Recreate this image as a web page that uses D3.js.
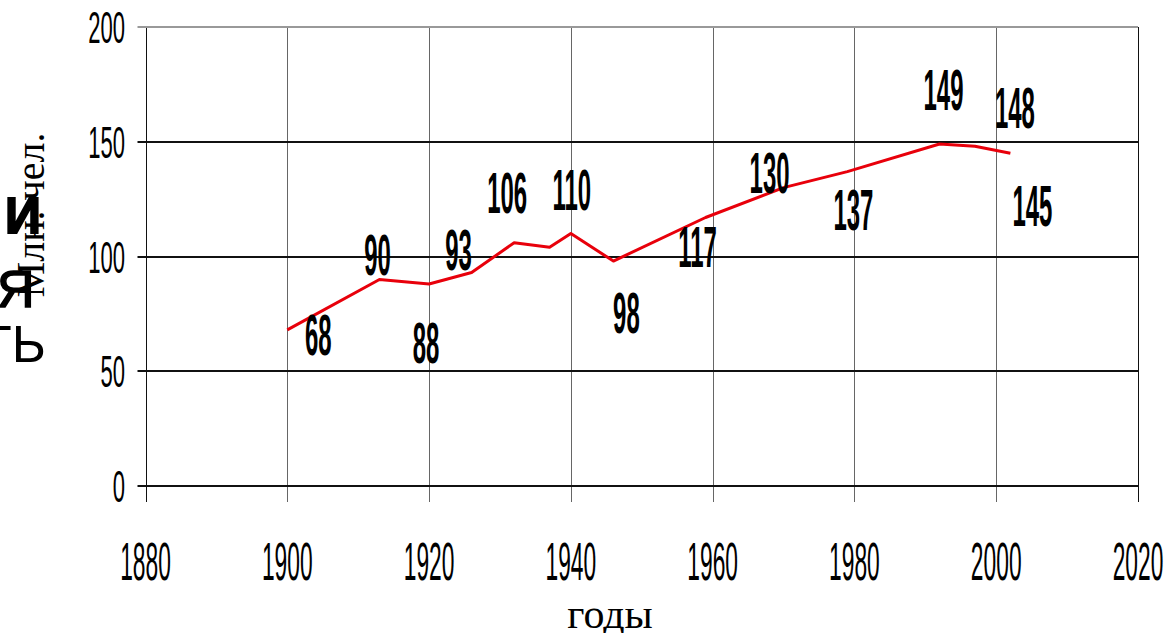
<!DOCTYPE html>
<html>
<head>
<meta charset="utf-8">
<script src="https://cdn.jsdelivr.net/npm/d3@7"></script>
<style>
  body { margin: 0; background: #fff; }
  svg { display: block; }
  .num { font-family: "Liberation Sans", Arial, sans-serif; }
  .serif { font-family: "Liberation Serif", "Times New Roman", serif; }
</style>
</head>
<body>
<div id="chart"></div>
<script>
// population, mln people
const years = [1900, 1913, 1920, 1926, 1932, 1937, 1940, 1946, 1959, 1970, 1979, 1992, 1997, 2002];
const values = [68, 90, 88, 93, 106, 104, 110, 98, 117, 130, 137, 149, 148, 145];
// printed value labels (1937 has none)
const labels = ['68', '90', '88', '93', '106', null, '110', '98', '117', '130', '137', '149', '148', '145'];

const xTicks = [1880, 1900, 1920, 1940, 1960, 1980, 2000, 2020];
const yTicks = [0, 50, 100, 150, 200];

// where each label sits relative to its point (dx, dy to baseline)
const labelDx = [31, -2, -3, -13, -7, 0, 1, 13, -8, -14, 6, 4, 40, 22];
const labelDy = [25, -4, 79, -3, -30, 0, -24, 72, 50, 5, 58, -34, -18, 73];

const width = 1168;
const height = 633;

const svg = d3.select('#chart')
  .append('svg')
  .attr('width', width)
  .attr('height', height);

const x = d3.scaleLinear().domain([1880, 2020]).range([145.5, 1138]);
const y = d3.scaleLinear().domain([0, 200]).range([486, 27]);

/* GRID */
const grid = svg.append('g').attr('class', 'grid');

grid.selectAll('.vline')
  .data(xTicks)
  .join('line')
  .attr('class', 'vline')
  .attr('x1', d => Math.round(x(d)) + 0.5)
  .attr('x2', d => Math.round(x(d)) + 0.5)
  .attr('y1', y(200))
  .attr('y2', y(0) + 16)
  .attr('stroke', (d, i) => (i === 0 || i === xTicks.length - 1) ? '#111' : '#666')
  .attr('stroke-width', 1);

grid.selectAll('.hline')
  .data(yTicks)
  .join('line')
  .attr('class', 'hline')
  .attr('x1', x(1880) - 8)
  .attr('x2', x(2020))
  .attr('y1', d => Math.round(y(d)))
  .attr('y2', d => Math.round(y(d)))
  .attr('stroke', d => d === 200 ? '#999' : '#111')
  .attr('stroke-width', 2);

/* TICK LABELS (condensed digits) */
svg.append('g')
  .selectAll('text')
  .data(yTicks)
  .join('text')
  .attr('class', 'num')
  .attr('transform', d => `translate(125,${y(d) + 16}) scale(0.49,1)`)
  .attr('text-anchor', 'end')
  .attr('font-size', 45)
  .attr('fill', '#000')
  .text(d => d);

svg.append('g')
  .selectAll('text')
  .data(xTicks)
  .join('text')
  .attr('class', 'num')
  .attr('transform', d => `translate(${x(d)},580) scale(0.43,1)`)
  .attr('text-anchor', 'middle')
  .attr('font-size', 53)
  .attr('fill', '#000')
  .text(d => d);

/* LINE */
const pts = years.map((yr, i) => ({ year: yr, value: values[i], label: labels[i], i }));

const line = d3.line()
  .x(d => x(d.year))
  .y(d => y(d.value));

svg.append('path')
  .datum(pts)
  .attr('d', line)
  .attr('fill', 'none')
  .attr('stroke', '#e8000b')
  .attr('stroke-width', 3)
  .attr('stroke-linejoin', 'round');

/* VALUE LABELS */
svg.append('g')
  .selectAll('text')
  .data(pts.filter(d => d.label))
  .join('text')
  .attr('class', 'num')
  .attr('transform', d => `translate(${x(d.year) + labelDx[d.i]},${y(d.value) + labelDy[d.i]}) scale(0.42,1)`)
  .attr('text-anchor', 'middle')
  .attr('font-size', 57)
  .attr('font-weight', 'bold')
  .attr('fill', '#000')
  .text(d => d.label);

/* AXIS TITLES */
svg.append('text')
  .attr('class', 'serif')
  .attr('x', 610)
  .attr('y', 628)
  .attr('text-anchor', 'middle')
  .attr('font-size', 42)
  .text('годы');

// leftover letters of a clipped vertical caption
const junk = svg.append('g').attr('class', 'num').attr('fill', '#000');
junk.append('text').attr('x', 5).attr('y', 233).attr('font-size', 50)
  .attr('font-weight', 'bold').attr('stroke', '#000').attr('stroke-width', 2).text('И');
junk.append('text').attr('x', -3).attr('y', 307).attr('font-size', 52)
  .attr('stroke', '#000').attr('stroke-width', 1.5).text('Я');
junk.append('text').attr('x', -20).attr('y', 362).attr('font-size', 52).text('ТЬ');

svg.append('text')
  .attr('class', 'serif')
  .attr('transform', 'translate(44,215) rotate(-90)')
  .attr('text-anchor', 'middle')
  .attr('font-size', 40)
  .text('Млн. чел.');
</script>
</body>
</html>
